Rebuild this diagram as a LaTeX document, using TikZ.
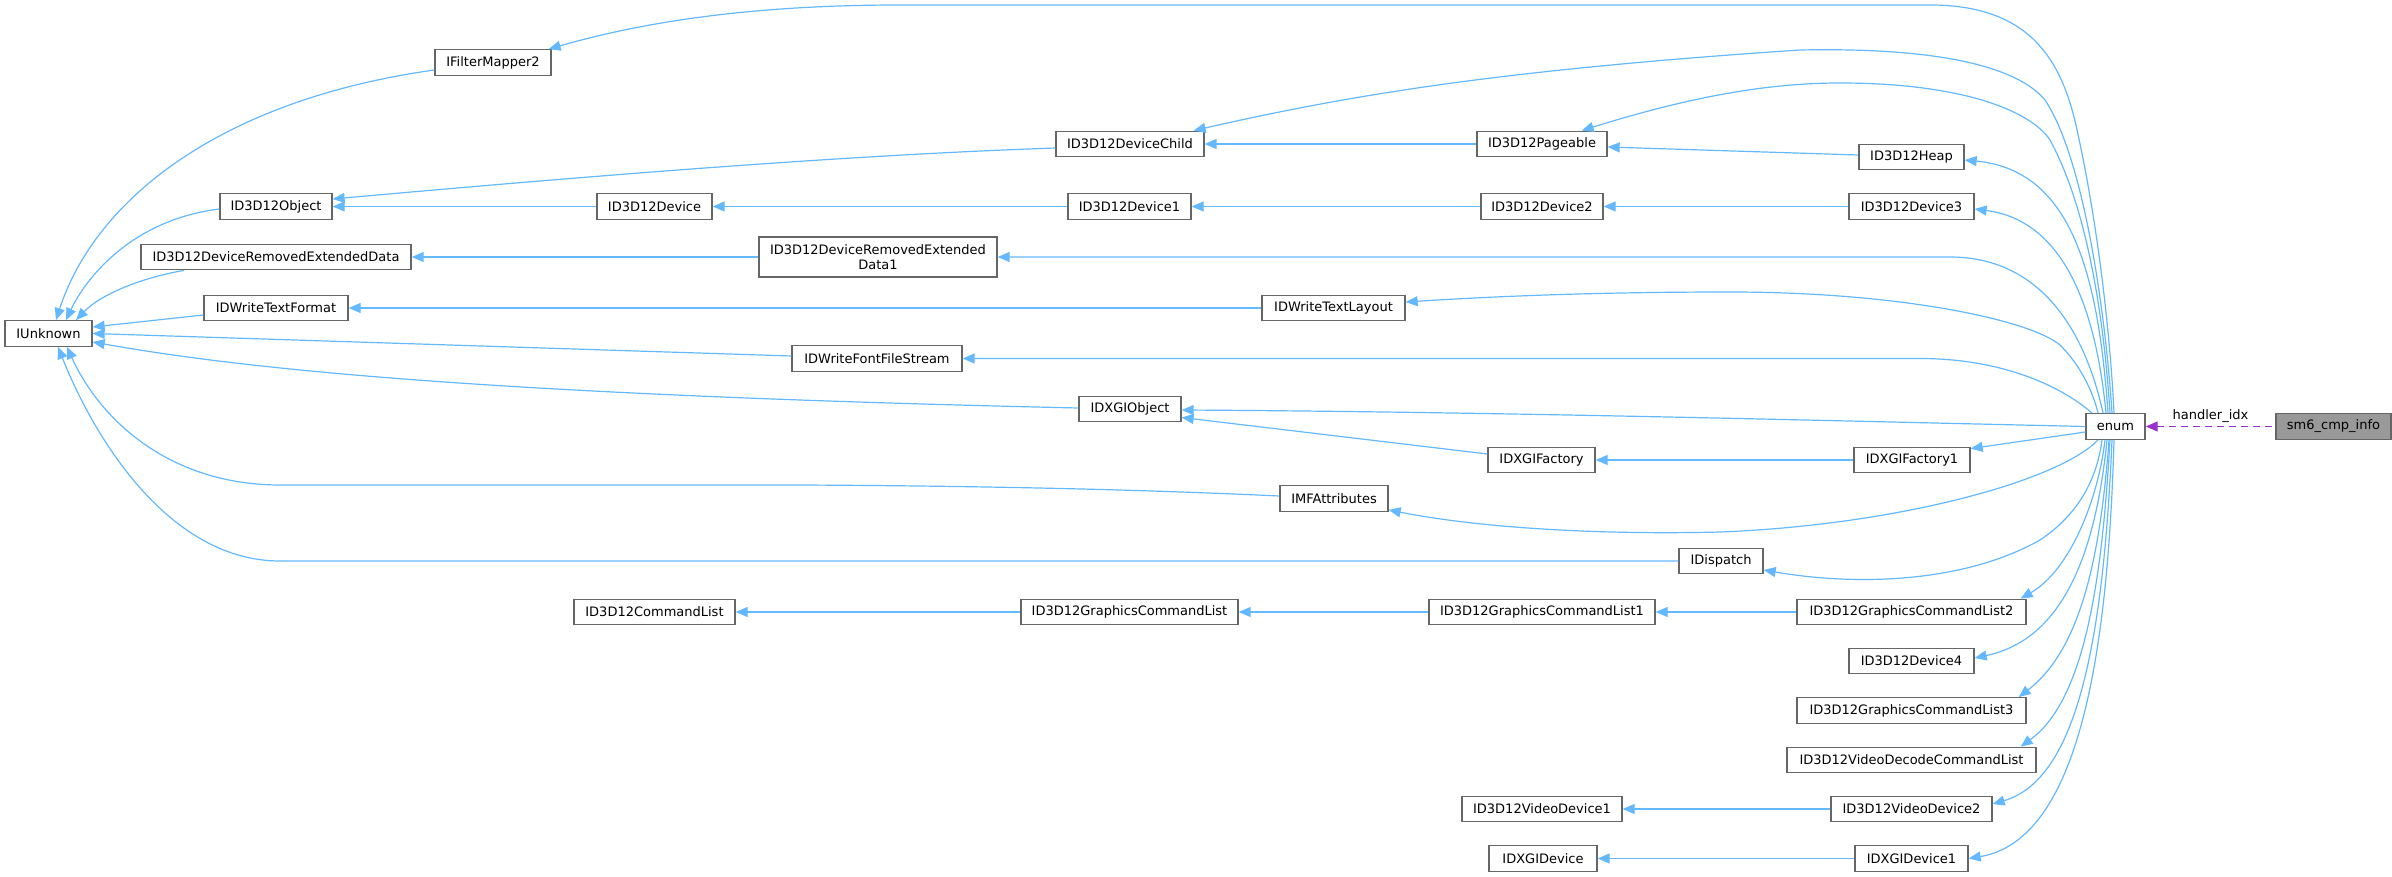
\documentclass[tikz,border=0pt]{standalone}
\usepackage{fontspec}
\setmainfont{DejaVu Sans}
\usetikzlibrary{arrows.meta}
\definecolor{edgeblue}{HTML}{63B8FF}
\definecolor{boxborder}{HTML}{666666}
\definecolor{rootfill}{HTML}{999999}
\definecolor{purpleedge}{HTML}{9A32CD}
\tikzset{
  cls/.style={draw=boxborder, line width=1.3pt, fill=white, minimum height=25.5pt,
    inner sep=0pt, font=\fontsize{13}{15.5}\selectfont, align=center},
  rootcls/.style={cls, fill=rootfill},
  inh/.style={draw=edgeblue, line width=1.2pt, {Triangle[length=12pt,width=10pt]}-},
  usage/.style={draw=purpleedge, line width=1.2pt, dash pattern=on 7pt off 5pt,
    {Triangle[length=12pt,width=10pt]}-},
  lbl/.style={font=\fontsize{13}{15.5}\selectfont, inner sep=0pt}
}
\begin{document}
\begin{tikzpicture}[x=1pt,y=-1pt]
\useasboundingbox (0,0) rectangle (2392,877);
% column 1
\node[cls, minimum width=87pt] (IUnknown) at (48.5,333.5) {IUnknown};
% column 2
\node[cls, minimum width=116pt] (IFM) at (493,62.5) {IFilterMapper2};
\node[cls, minimum width=112pt] (Obj) at (276,206.5) {ID3D12Object};
\node[cls, minimum width=270pt] (DRED) at (276,257) {ID3D12DeviceRemovedExtendedData};
\node[cls, minimum width=144pt] (TF) at (276,308) {IDWriteTextFormat};
\node[cls, minimum width=161pt] (CL) at (654.5,612) {ID3D12CommandList};
% column 3
\node[cls, minimum width=115pt] (Dev) at (654.5,206.5) {ID3D12Device};
\node[cls, minimum width=238pt, minimum height=40pt] (DRED1) at (878,257) {ID3D12DeviceRemovedExtended\\[-1pt]Data1};
\node[cls, minimum width=170pt] (FFS) at (877,358.5) {IDWriteFontFileStream};
% column 4
\node[cls, minimum width=148pt] (DevChild) at (1130,144) {ID3D12DeviceChild};
\node[cls, minimum width=123pt] (Dev1) at (1129.5,206.5) {ID3D12Device1};
\node[cls, minimum width=102pt] (DXGIObj) at (1130,409) {IDXGIObject};
\node[cls, minimum width=217pt] (GCL) at (1129.5,612) {ID3D12GraphicsCommandList};
% column 5
\node[cls, minimum width=143pt] (TL) at (1333.5,308) {IDWriteTextLayout};
\node[cls, minimum width=108pt] (IMF) at (1334,498.5) {IMFAttributes};
% column 6
\node[cls, minimum width=130pt] (Page) at (1542,144) {ID3D12Pageable};
\node[cls, minimum width=122pt] (Dev2) at (1542,206.5) {ID3D12Device2};
\node[cls, minimum width=107pt] (Fact) at (1541.5,460) {IDXGIFactory};
\node[cls, minimum width=226pt] (GCL1) at (1542,612) {ID3D12GraphicsCommandList1};
\node[cls, minimum width=160pt] (VD1) at (1542,809) {ID3D12VideoDevice1};
\node[cls, minimum width=108pt] (DXGIDev) at (1543,858.5) {IDXGIDevice};
% column 7
\node[cls, minimum width=84pt] (Disp) at (1721,561) {IDispatch};
% column 8
\node[cls, minimum width=105pt] (Heap) at (1911.5,157) {ID3D12Heap};
\node[cls, minimum width=125pt] (Dev3) at (1911.5,206.5) {ID3D12Device3};
\node[cls, minimum width=116pt] (Fact1) at (1912,460) {IDXGIFactory1};
\node[cls, minimum width=229pt] (GCL2) at (1911.5,612) {ID3D12GraphicsCommandList2};
\node[cls, minimum width=125pt] (Dev4) at (1911.5,661) {ID3D12Device4};
\node[cls, minimum width=229pt] (GCL3) at (1911.5,710.5) {ID3D12GraphicsCommandList3};
\node[cls, minimum width=249pt] (VDCL) at (1911.5,760) {ID3D12VideoDecodeCommandList};
\node[cls, minimum width=161pt] (VD2) at (1911.5,809) {ID3D12VideoDevice2};
\node[cls, minimum width=113pt] (DXGIDev1) at (1911.5,858.5) {IDXGIDevice1};
% enum & root
\node[cls, minimum width=59pt] (enum) at (2115.5,426.5) {enum};
\node[rootcls, minimum width=115pt] (sm6) at (2333.5,426.5) {sm6\_cmp\_info};

% ---- edges into IUnknown
\draw[inh] ([xshift=7.5pt]IUnknown.north) .. controls (95,200) and (220,100) .. ([yshift=-7.5pt]IFM.west);
\draw[inh] ([xshift=17.5pt]IUnknown.north) .. controls (85,280) and (130,220) .. ([yshift=-2.5pt]Obj.west);
\draw[inh] ([xshift=27.5pt]IUnknown.north) .. controls (100,295) and (140,278) .. ([xshift=-92pt]DRED.south);
\draw[inh] ([yshift=6.5pt]IUnknown.east) -- ([yshift=-7pt]TF.west);
\draw[inh] (IUnknown.east) -- ([yshift=2.5pt]FFS.west);
\draw[inh] ([yshift=-8.5pt]IUnknown.east) .. controls (250,370) and (500,395) .. ([yshift=1pt]DXGIObj.west);
\draw[inh] ([xshift=18.5pt]IUnknown.south) .. controls (100,420) and (170,485) .. (280,485) -- (800,485)
  .. controls (1000,486) and (1150,490) .. ([yshift=2.5pt]IMF.west);
\draw[inh] ([xshift=9.5pt]IUnknown.south) .. controls (95,440) and (170,561) .. (280,561) -- (Disp.west);

% ---- chains
\draw[inh] ([yshift=7.5pt]Obj.east) .. controls (600,175) and (850,155) .. ([yshift=-4pt]DevChild.west);
\draw[inh] (Obj.east) -- (Dev.west);
\draw[inh] (Dev.east) -- (Dev1.west);
\draw[inh] (Dev1.east) -- (Dev2.west);
\draw[inh] (Dev2.east) -- (Dev3.west);
\draw[inh] (DevChild.east) -- (Page.west);
\draw[inh] ([yshift=-3pt]Page.east) -- ([yshift=2pt]Heap.west);
\draw[inh] (DRED.east) -- (DRED1.west);
\draw[inh] (TF.east) -- (TL.west);
\draw[inh] ([yshift=-8.5pt]DXGIObj.east) -- ([yshift=6pt]Fact.west);
\draw[inh] (Fact.east) -- (Fact1.west);
\draw[inh] (CL.east) -- (GCL.west);
\draw[inh] (GCL.east) -- (GCL1.west);
\draw[inh] (GCL1.east) -- (GCL2.west);
\draw[inh] (VD1.east) -- (VD2.west);
\draw[inh] (DXGIDev.east) -- (DXGIDev1.west);

% ---- edges from enum (upper)
\draw[inh] ([xshift=-3pt]IFM.north east) .. controls (650,20) and (760,5) .. (900,5) -- (1930,5)
  .. controls (2030,5) and (2062,60) .. (2077,130) .. controls (2097,220) and (2110,330) .. ([xshift=-1.5pt]enum.north);
\draw[inh] ([xshift=-11pt]DevChild.north east) .. controls (1350,95) and (1500,70) .. (1800,50)
  .. controls (1950,47) and (2020,70) .. (2045,100) .. controls (2085,160) and (2106,320) .. ([xshift=-3.5pt]enum.north);
\draw[inh] ([xshift=-26pt]Page.north east) .. controls (1680,100) and (1760,83) .. (1840,83)
  .. controls (1960,83) and (2030,110) .. (2050,140) .. controls (2088,210) and (2104,320) .. ([xshift=-5.5pt]enum.north);
\draw[inh] ([yshift=-3pt]Heap.east) .. controls (2070,170) and (2098,270) .. ([xshift=-7.5pt]enum.north);
\draw[inh] ([yshift=-2.5pt]Dev3.east) .. controls (2060,220) and (2095,300) .. ([xshift=-9.5pt]enum.north);
\draw[inh] (DRED1.east) -- (1950,257) .. controls (2040,257) and (2085,330) .. ([xshift=-12.5pt]enum.north);
\draw[inh] ([yshift=6pt]TL.east) .. controls (1500,296) and (1600,292) .. (1730,292)
  .. controls (1900,292) and (2030,320) .. (2060,345) .. controls (2085,370) and (2095,400) .. ([xshift=-17.5pt]enum.north);
\draw[inh] (FFS.east) -- (1920,358.5) .. controls (2000,358.5) and (2060,385) .. ([xshift=-23.5pt]enum.north);
\draw[inh] ([yshift=-1pt]DXGIObj.east) .. controls (1500,412) and (1800,420) .. (enum.west);
\draw[inh] ([yshift=-2pt]Fact1.north east) -- ([yshift=-5.5pt]enum.west);

% ---- edges from enum (lower)
\draw[inh] ([yshift=2pt]IMF.south east) .. controls (1480,528) and (1600,535) .. (1720,532)
  .. controls (1900,525) and (2060,480) .. ([xshift=-17.5pt]enum.south);
\draw[inh] ([yshift=-9pt]Disp.east) .. controls (1850,585) and (1960,585) .. (2040,540)
  .. controls (2085,510) and (2098,470) .. ([xshift=-13.5pt]enum.south);
\draw[inh] ([xshift=-6pt]GCL2.north east) .. controls (2070,570) and (2098,500) .. ([xshift=-10.5pt]enum.south);
\draw[inh] ([yshift=3pt]Dev4.east) .. controls (2060,640) and (2095,560) .. ([xshift=-8.5pt]enum.south);
\draw[inh] ([xshift=-8pt]GCL3.north east) .. controls (2080,650) and (2100,560) .. ([xshift=-6.5pt]enum.south);
\draw[inh] ([xshift=-16pt]VDCL.north east) .. controls (2085,700) and (2102,580) .. ([xshift=-5.5pt]enum.south);
\draw[inh] ([yshift=5pt]VD2.east) .. controls (2075,780) and (2103,650) .. ([xshift=-3.5pt]enum.south);
\draw[inh] (DXGIDev1.east) .. controls (2080,840) and (2108,650) .. ([xshift=-1.5pt]enum.south);

% ---- usage edge
\draw[usage] (enum.east) -- node[lbl, above=3pt] {handler\_idx} (sm6.west);
\end{tikzpicture}
\end{document}
